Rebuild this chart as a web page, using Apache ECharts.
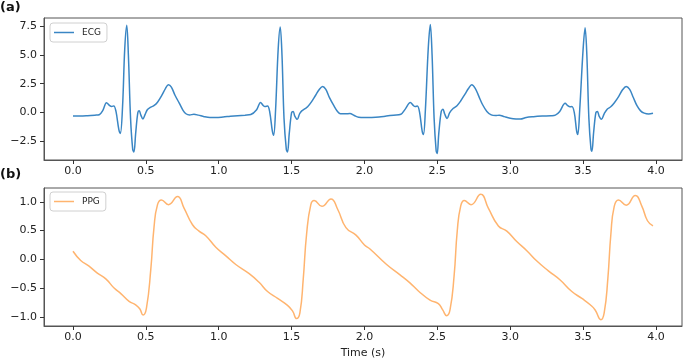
<!DOCTYPE html>
<html>
<head>
<meta charset="utf-8">
<script src="https://cdn.jsdelivr.net/npm/echarts@6/dist/echarts.min.js"></script>
<style>
html,body{margin:0;padding:0;background:#fff;}
#chart{width:685px;height:360px;}
</style>
</head>
<body>
<div id="chart"></div>
<script>
var ecgTime = [0.00,0.05,0.10,0.15,0.18,0.205,0.23,0.25,0.265,0.28,0.295,0.315,0.325,0.34,0.355,0.369,0.38,0.395,0.41,0.418,0.43,0.445,0.455,0.465,0.48,0.495,0.51,0.53,0.555,0.58,0.61,0.635,0.655,0.675,0.70,0.73,0.755,0.775,0.80,0.83,0.86,0.90,0.94,0.98,1.03,1.08,1.13,1.18,1.22,
  1.26,1.287,1.305,1.317,1.335,1.35,1.368,1.377,1.39,1.408,1.422,1.434,1.448,1.464,1.472,1.484,1.50,1.511,1.522,1.539,1.555,1.57,1.59,1.61,1.635,1.665,1.69,1.713,1.735,1.76,1.79,1.815,1.835,1.87,1.90,1.93,1.96,2.00,2.05,2.10,2.15,2.20,2.25,
  2.28,2.315,2.335,2.348,2.363,2.378,2.396,2.405,2.418,2.438,2.452,2.464,2.478,2.492,2.499,2.51,2.527,2.539,2.55,2.567,2.585,2.61,2.635,2.66,2.69,2.715,2.736,2.76,2.785,2.81,2.84,2.87,2.90,2.925,2.96,3.00,3.04,3.07,3.11,3.16,3.22,3.28,3.31,
  3.34,3.377,3.395,3.41,3.423,3.44,3.456,3.464,3.477,3.50,3.514,3.526,3.54,3.554,3.561,3.572,3.588,3.599,3.61,3.626,3.645,3.667,3.69,3.715,3.745,3.77,3.796,3.82,3.845,3.87,3.895,3.92,3.95,3.98];
var ecgValue = [-0.30,-0.30,-0.27,-0.22,-0.18,0.20,0.85,0.62,0.52,0.58,0.10,-1.50,-1.80,0.50,5.50,7.55,5.00,-0.50,-3.20,-3.40,-1.80,0.00,0.15,-0.20,-0.55,-0.15,0.25,0.45,0.60,0.90,1.50,2.10,2.40,2.20,1.50,0.80,0.20,-0.10,-0.20,-0.15,-0.22,-0.35,-0.42,-0.42,-0.38,-0.32,-0.27,-0.22,-0.17,
  0.25,0.87,0.62,0.52,0.56,0.05,-1.60,-1.95,0.20,5.50,7.40,5.00,-0.50,-3.20,-3.40,-1.80,0.00,0.10,-0.30,-0.58,-0.10,0.15,0.32,0.50,0.90,1.50,2.00,2.26,2.00,1.30,0.60,0.10,-0.10,-0.10,-0.08,-0.25,-0.40,-0.43,-0.42,-0.38,-0.30,-0.22,-0.14,
  0.30,0.87,0.62,0.52,0.57,0.05,-1.60,-1.89,0.20,5.60,7.62,5.00,-0.50,-3.30,-3.54,-1.80,0.10,0.29,-0.10,-0.50,0.00,0.37,0.60,1.00,1.60,2.10,2.40,2.10,1.40,0.70,0.10,-0.20,-0.26,-0.22,-0.35,-0.48,-0.55,-0.56,-0.42,-0.35,-0.30,-0.27,-0.22,
  0.10,0.81,0.60,0.50,0.52,0.00,-1.60,-1.89,0.20,5.40,7.33,5.00,-0.50,-3.10,-3.34,-1.80,0.00,0.09,-0.30,-0.58,-0.10,0.31,0.50,0.85,1.40,1.95,2.26,2.00,1.30,0.60,0.15,-0.05,-0.12,-0.06];

var ppgTime = [0,0.053,0.11,0.167,0.225,0.282,0.33,0.385,0.43,0.458,0.481,0.504,0.534,0.556,0.58,0.607,0.655,0.717,0.762,0.82,0.865,0.911,0.98,1.049,1.117,1.209,1.277,1.335,1.404,1.472,1.507,1.534,1.557,1.58,1.603,1.632,1.655,1.708,1.77,1.816,1.873,1.942,2.0,2.038,2.152,2.244,2.312,2.37,2.45,2.507,2.537,2.564,2.587,2.615,2.637,2.66,2.685,2.731,2.798,2.85,2.919,2.977,3.045,3.114,3.183,3.262,3.343,3.423,3.492,3.549,3.583,3.622,3.645,3.67,3.691,3.714,3.743,3.796,3.858,3.904,3.942,3.98];
var ppgValue = [0.14,-0.02,-0.12,-0.24,-0.34,-0.50,-0.60,-0.73,-0.79,-0.86,-0.97,-0.85,-0.17,0.56,0.95,1.03,0.95,1.09,0.89,0.60,0.49,0.41,0.21,0.06,-0.09,-0.25,-0.40,-0.56,-0.68,-0.80,-0.90,-1.03,-0.93,-0.34,0.44,0.95,1.02,0.92,1.05,0.87,0.55,0.42,0.25,0.18,-0.09,-0.27,-0.41,-0.55,-0.71,-0.77,-0.88,-0.98,-0.88,-0.29,0.50,0.92,1.02,0.95,1.13,0.89,0.58,0.49,0.31,0.15,-0.03,-0.20,-0.36,-0.56,-0.68,-0.79,-0.88,-1.05,-0.93,-0.34,0.44,0.92,1.03,0.94,1.11,0.92,0.67,0.58];

var xTicks = [0, 0.5, 1.0, 1.5, 2.0, 2.5, 3.0, 3.5, 4.0];
var ecgTicks = [-2.5, 0, 2.5, 5.0, 7.5];
var ppgTicks = [-1.0, -0.5, 0, 0.5, 1.0];
var panelLabels = ['(a)', '(b)'];
var seriesNames = ['ECG', 'PPG'];
var xTitle = 'Time (s)';

function pairs(t, v) { return t.map(function (x, i) { return [x, v[i]]; }); }
function fmt(v) { var s = Math.abs(v).toFixed(1); return v < 0 ? '\u2212' + s : s; }
function range(vals) {
  var lo = Math.min.apply(null, vals), hi = Math.max.apply(null, vals), m = (hi - lo) * 0.05;
  return [lo - m, hi + m];
}
var xr = range(ecgTime.concat(ppgTime));
var er = range(ecgValue), pr = range(ppgValue);

var font = 'DejaVu Sans';
var txt = '#222';
var spine = '#555';
function xAxisDef(idx, withName) {
  return {
    type: 'value', gridIndex: idx, min: xr[0], max: xr[1], position: 'bottom',
    axisLine: { show: true, onZero: false, lineStyle: { color: spine, width: 1 } }, splitLine: { show: false },
    axisTick: { show: true, inside: false, length: 4, lineStyle: { color: '#333' }, customValues: xTicks },
    axisLabel: { show: true, margin: 6, color: txt, fontFamily: font, fontSize: 11, customValues: xTicks, formatter: fmt },
    name: withName ? xTitle : '', nameLocation: 'middle', nameGap: 22,
    nameTextStyle: { color: txt, fontFamily: font, fontSize: 11 }
  };
}
function yAxisDef(idx, r, ticks) {
  return {
    type: 'value', gridIndex: idx, min: r[0], max: r[1], position: 'left',
    axisLine: { show: true, onZero: false, lineStyle: { color: spine, width: 1 } }, splitLine: { show: false },
    axisTick: { show: true, inside: false, length: 4, lineStyle: { color: '#333' }, customValues: ticks },
    axisLabel: { show: true, margin: 7, color: txt, fontFamily: font, fontSize: 11, customValues: ticks, formatter: fmt }
  };
}
function legendDef(name, top) {
  return {
    data: [name], left: 50, top: top, orient: 'vertical',
    icon: 'rect', itemWidth: 20, itemHeight: 1.5, itemGap: 0,
    padding: [5, 6, 5, 4], borderColor: '#d0d0d0', borderWidth: 1, borderRadius: 3,
    backgroundColor: 'rgba(255,255,255,0.8)',
    textStyle: { color: txt, fontFamily: font, fontSize: 9, padding: [0, 0, 0, 3] }
  };
}

var chart = echarts.init(document.getElementById('chart'), null, { renderer: 'canvas' });
chart.setOption({
  animation: false,
  backgroundColor: '#fff',
  graphic: [
    { type: 'text', left: 0, top: 1, style: { text: panelLabels[0], fill: '#111', font: 'bold 13px "DejaVu Sans"' } },
    { type: 'text', left: 0, top: 168, style: { text: panelLabels[1], fill: '#111', font: 'bold 13px "DejaVu Sans"' } }
  ],
  grid: [
    { left: 44, top: 18, width: 638, height: 142, show: true, borderColor: spine, borderWidth: 1, backgroundColor: 'transparent' },
    { left: 44, top: 188, width: 638, height: 141, show: true, borderColor: spine, borderWidth: 1, backgroundColor: 'transparent' }
  ],
  xAxis: [xAxisDef(0, false), xAxisDef(1, true)],
  yAxis: [yAxisDef(0, er, ecgTicks), yAxisDef(1, pr, ppgTicks)],
  legend: [legendDef(seriesNames[0], 23), legendDef(seriesNames[1], 192)],
  series: [
    { name: seriesNames[0], type: 'line', xAxisIndex: 0, yAxisIndex: 0, data: pairs(ecgTime, ecgValue),
      symbol: 'none', smooth: 0.35, color: '#3a86c4', lineStyle: { width: 1.5, color: '#3a86c4' } },
    { name: seriesNames[1], type: 'line', xAxisIndex: 1, yAxisIndex: 1, data: pairs(ppgTime, ppgValue),
      symbol: 'none', smooth: 0.5, color: '#ffb46f', lineStyle: { width: 1.5, color: '#ffb46f' } }
  ]
});
</script>
</body>
</html>
